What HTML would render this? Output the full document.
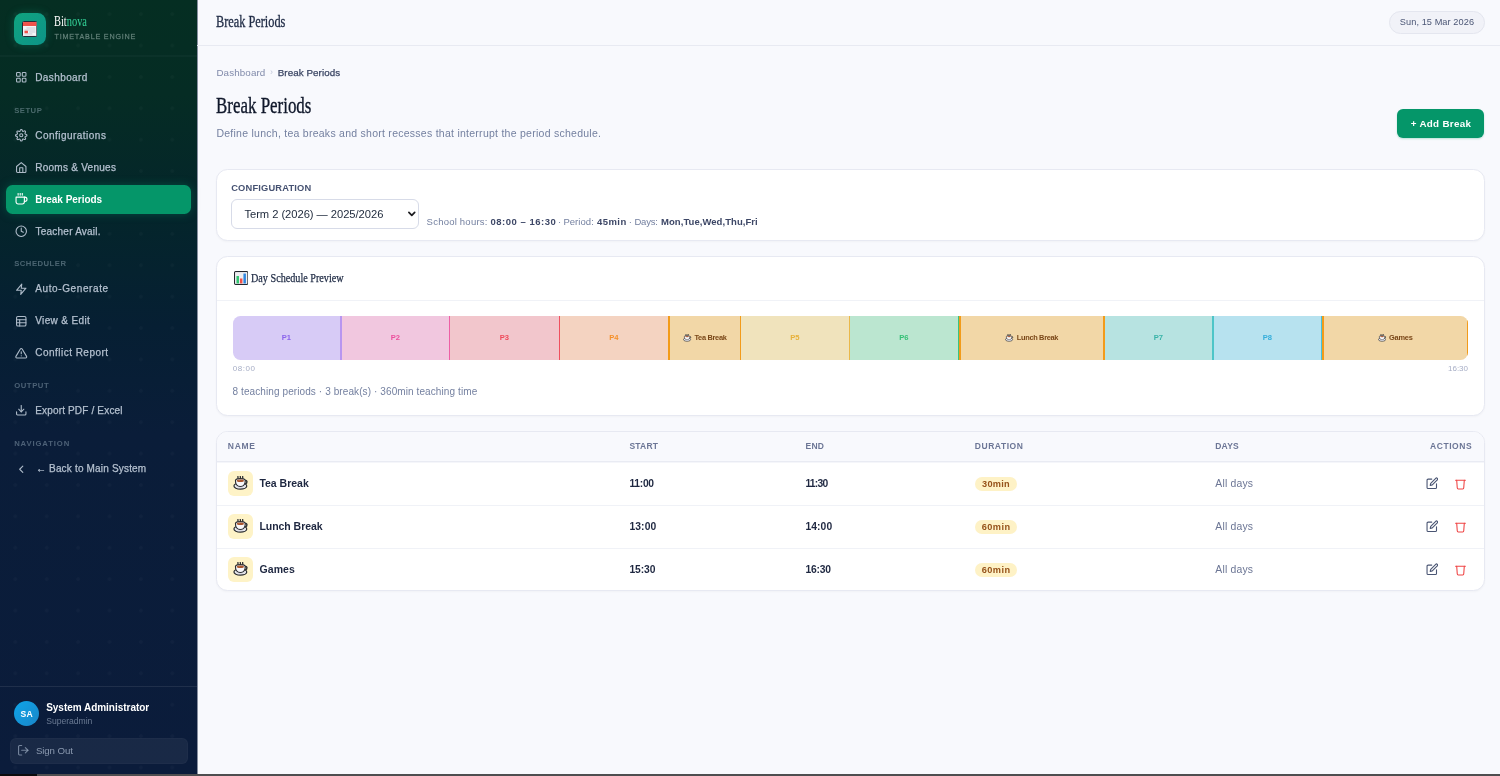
<!DOCTYPE html>
<html lang="en"><head><meta charset="utf-8"><title>Break Periods</title>
<style>

*{box-sizing:border-box;margin:0;padding:0}
html,body{width:1500px;height:776px;overflow:hidden;background:#f8f9fd;font-family:"Liberation Sans",sans-serif}
.t{position:absolute;white-space:pre;line-height:16px;display:block}
.abs{position:absolute}
#sb{position:absolute;left:0;top:0;width:197px;height:776px;box-shadow:1px 0 0 rgba(20,36,66,.5);
 background:linear-gradient(180deg,#052e22 0%,#052c24 12%,#04252b 28%,#061f33 42%,#0a1d39 56%,#0b1c3b 100%)}
#sb .dots{position:absolute;inset:0;background-image:radial-gradient(circle,rgba(255,255,255,.022) 0,rgba(255,255,255,.022) 1.4px,transparent 2.2px);background-size:31.4px 31.4px;background-position:-0.4px -1.6px}
#sb .hr{position:absolute;left:0;width:197px;height:1px;background:rgba(255,255,255,.045)}
.ico{position:absolute;width:13px;height:13px;fill:none;stroke-linecap:round;stroke-linejoin:round;stroke-width:2.1}
#active{position:absolute;left:6px;top:184.5px;width:185px;height:29.5px;border-radius:6.5px;background:#059669;box-shadow:0 0 10px rgba(5,150,105,.35)}
#logo{position:absolute;left:14px;top:13px;width:31.5px;height:31.5px;border-radius:8.5px;background:linear-gradient(135deg,#10a37f,#0d9488);box-shadow:0 0 9px rgba(16,163,127,.35)}
#avatar{position:absolute;left:14px;top:700.8px;width:25.2px;height:25.2px;border-radius:50%;background:linear-gradient(135deg,#0ea5e9,#1a86c8)}
#signout{position:absolute;left:10px;top:738px;width:178px;height:25.5px;border-radius:6px;background:rgba(255,255,255,.06);border:1px solid rgba(255,255,255,.025)}
#topline{position:absolute;left:197px;top:45px;width:1303px;height:1px;background:#e8eaf2}
#datepill{position:absolute;left:1389px;top:11px;width:95.5px;height:22.6px;border-radius:12px;background:#f1f2f8;border:1px solid #e4e6ef}
#addbtn{position:absolute;left:1396.7px;top:109.4px;width:87.6px;height:28.2px;border-radius:6px;background:#059669;box-shadow:0 1px 2px rgba(5,150,105,.25)}
.card{position:absolute;left:216px;width:1269px;background:#fff;border:1px solid #e7e9f2;border-radius:11.5px;box-shadow:0 1px 2px rgba(15,23,42,.03);overflow:hidden}
#select{position:absolute;left:231px;top:199px;width:188px;height:30px;border-radius:6px;border:1px solid #d7dbe8;background:#fff}
#bar{position:absolute;left:233px;top:316px;width:1235px;height:44px;border-radius:7.5px;overflow:hidden}
#bar div{position:absolute;top:0;height:100%}
.hline{position:absolute;left:0;width:100%;height:1px;background:#f0f2f7}
.iconbox{position:absolute;left:228px;width:25px;height:25px;border-radius:6px;background:#fef3c7}
.pill{position:absolute;left:974.8px;width:42px;height:14.2px;border-radius:7.1px;background:#fef2c6}
#bottombar{position:absolute;left:0;top:774px;width:1500px;height:2px;background:#4e4e50}
#bottombar i{position:absolute;left:0;top:0;width:37px;height:2px;background:#0c0c0e}

</style></head>
<body>
<div id="sb"><div class="dots"></div><div id="logo"></div><svg class="abs" style="left:22px;top:20.800px;width:15.400px;height:16px" viewBox="0 0 31 32">
<rect x="1" y="1" width="29" height="30" rx="2" fill="#f5f5f7" stroke="#1f2430" stroke-width="2"/>
<path d="M2 2h27v8H2z" fill="#f0524a"/>
<g fill="#c9ccd6"><rect x="9" y="13" width="18" height="2"/><rect x="5" y="17" width="22" height="2"/><rect x="14" y="21" width="13" height="2"/><rect x="5" y="25" width="16" height="2"/></g>
<rect x="5" y="19.500" width="7" height="5" fill="#f0524a"/>
</svg><span class="t" style="font:400 13.6px/16px 'Liberation Serif', serif;color:#fff;transform:scaleX(0.7663);transform-origin:0 50%;left:54.20px;top:13.70px;">Bit<span style="color:#34d399">nova</span></span><span class="t" style="font:400 7.2px/16px 'Liberation Sans', sans-serif;color:rgba(190,210,205,.40);letter-spacing:0.795px;left:54.50px;top:28.50px;-webkit-text-stroke:.3px rgba(190,210,205,.34);">TIMETABLE ENGINE</span><div class="hr" style="top:55px;height:2px;background:rgba(255,255,255,.028)"></div><svg class="ico" style="left:15.0px;top:71.25px;width:12.5px;height:12.5px;stroke:#aebbc9;stroke-width:2.1" viewBox="0 0 24 24"><rect x="3" y="3" width="7" height="7" rx="1.5"/><rect x="14" y="3" width="7" height="7" rx="1.5"/><rect x="14" y="14" width="7" height="7" rx="1.5"/><rect x="3" y="14" width="7" height="7" rx="1.5"/></svg><span class="t" style="font:400 10.0px/16px 'Liberation Sans', sans-serif;color:#b4c0cf;letter-spacing:0.410px;left:35.20px;top:69.80px;-webkit-text-stroke:.25px #b4c0cf;">Dashboard</span><span class="t" style="font:700 7.7px/16px 'Liberation Sans', sans-serif;color:rgba(170,190,205,.42);letter-spacing:0.490px;left:14.20px;top:103.10px;">SETUP</span><svg class="ico" style="left:15.0px;top:129.25px;width:12.5px;height:12.5px;stroke:#aebbc9;stroke-width:2.1" viewBox="0 0 24 24"><circle cx="12" cy="12" r="3"/><path d="M19.4 15a1.65 1.65 0 0 0 .33 1.82l.06.06a2 2 0 0 1 0 2.83 2 2 0 0 1-2.83 0l-.06-.06a1.65 1.65 0 0 0-1.82-.33 1.65 1.65 0 0 0-1 1.51V21a2 2 0 0 1-2 2 2 2 0 0 1-2-2v-.09A1.65 1.65 0 0 0 9 19.4a1.65 1.65 0 0 0-1.82.33l-.06.06a2 2 0 0 1-2.83 0 2 2 0 0 1 0-2.83l.06-.06a1.65 1.65 0 0 0 .33-1.82 1.65 1.65 0 0 0-1.51-1H3a2 2 0 0 1-2-2 2 2 0 0 1 2-2h.09A1.65 1.65 0 0 0 4.6 9a1.65 1.65 0 0 0-.33-1.82l-.06-.06a2 2 0 0 1 0-2.83 2 2 0 0 1 2.83 0l.06.06a1.65 1.65 0 0 0 1.82.33H9a1.65 1.65 0 0 0 1-1.51V3a2 2 0 0 1 2-2 2 2 0 0 1 2 2v.09a1.65 1.65 0 0 0 1 1.51 1.65 1.65 0 0 0 1.82-.33l.06-.06a2 2 0 0 1 2.83 0 2 2 0 0 1 0 2.83l-.06.06a1.65 1.65 0 0 0-.33 1.82V9a1.65 1.65 0 0 0 1.51 1H21a2 2 0 0 1 2 2 2 2 0 0 1-2 2h-.09a1.65 1.65 0 0 0-1.51 1z"/></svg><span class="t" style="font:400 10.0px/16px 'Liberation Sans', sans-serif;color:#b4c0cf;letter-spacing:0.478px;left:35.20px;top:127.80px;-webkit-text-stroke:.25px #b4c0cf;">Configurations</span><svg class="ico" style="left:15.0px;top:161.25px;width:12.5px;height:12.5px;stroke:#aebbc9;stroke-width:2.1" viewBox="0 0 24 24"><path d="M3 10.5 12 3l9 7.5V20a2 2 0 0 1-2 2H5a2 2 0 0 1-2-2z"/><path d="M9 22v-9h6v9"/></svg><span class="t" style="font:400 10.0px/16px 'Liberation Sans', sans-serif;color:#b4c0cf;letter-spacing:0.264px;left:35.20px;top:159.80px;-webkit-text-stroke:.25px #b4c0cf;">Rooms &amp; Venues</span><div id="active"></div><svg class="ico" style="left:15.0px;top:193.25px;width:12.5px;height:12.5px;stroke:#ffffff;stroke-width:2.1" viewBox="0 0 24 24"><path d="M18 8h1a4 4 0 0 1 0 8h-1"/><path d="M2 8h16v9a4 4 0 0 1-4 4H6a4 4 0 0 1-4-4V8z"/><line x1="6" y1="1" x2="6" y2="4"/><line x1="10" y1="1" x2="10" y2="4"/><line x1="14" y1="1" x2="14" y2="4"/></svg><span class="t" style="font:700 10.0px/16px 'Liberation Sans', sans-serif;color:#fff;letter-spacing:-0.022px;left:35.20px;top:191.80px;">Break Periods</span><svg class="ico" style="left:15.0px;top:224.95000000000002px;width:12.5px;height:12.5px;stroke:#aebbc9;stroke-width:2.1" viewBox="0 0 24 24"><circle cx="12" cy="12" r="10"/><polyline points="12 6 12 12 16 14"/></svg><span class="t" style="font:400 10.0px/16px 'Liberation Sans', sans-serif;color:#b4c0cf;letter-spacing:0.217px;left:35.60px;top:223.50px;-webkit-text-stroke:.25px #b4c0cf;">Teacher Avail.</span><span class="t" style="font:700 7.7px/16px 'Liberation Sans', sans-serif;color:rgba(170,190,205,.42);letter-spacing:0.495px;left:14.20px;top:256.30px;">SCHEDULER</span><svg class="ico" style="left:15.0px;top:282.65000000000003px;width:12.5px;height:12.5px;stroke:#aebbc9;stroke-width:2.1" viewBox="0 0 24 24"><polygon points="13 2 3 14 12 14 11 22 21 10 12 10 13 2"/></svg><span class="t" style="font:400 10.0px/16px 'Liberation Sans', sans-serif;color:#b4c0cf;letter-spacing:0.616px;left:35.20px;top:281.20px;-webkit-text-stroke:.25px #b4c0cf;">Auto-Generate</span><svg class="ico" style="left:15.0px;top:314.65000000000003px;width:12.5px;height:12.5px;stroke:#aebbc9;stroke-width:2.1" viewBox="0 0 24 24"><rect x="3" y="3" width="18" height="18" rx="2.5"/><line x1="3" y1="9" x2="21" y2="9"/><line x1="3" y1="15" x2="21" y2="15"/><line x1="9" y1="9" x2="9" y2="21"/></svg><span class="t" style="font:400 10.0px/16px 'Liberation Sans', sans-serif;color:#b4c0cf;letter-spacing:0.375px;left:35.20px;top:313.20px;-webkit-text-stroke:.25px #b4c0cf;">View &amp; Edit</span><svg class="ico" style="left:15.0px;top:346.65000000000003px;width:12.5px;height:12.5px;stroke:#aebbc9;stroke-width:2.1" viewBox="0 0 24 24"><path d="M10.29 3.86 1.82 18a2 2 0 0 0 1.71 3h16.94a2 2 0 0 0 1.71-3L13.71 3.86a2 2 0 0 0-3.42 0z"/><line x1="12" y1="9" x2="12" y2="13"/><line x1="12" y1="17" x2="12.01" y2="17"/></svg><span class="t" style="font:400 10.0px/16px 'Liberation Sans', sans-serif;color:#b4c0cf;letter-spacing:0.483px;left:35.20px;top:345.20px;-webkit-text-stroke:.25px #b4c0cf;">Conflict Report</span><span class="t" style="font:700 7.7px/16px 'Liberation Sans', sans-serif;color:rgba(170,190,205,.42);letter-spacing:0.578px;left:14.20px;top:378.40px;">OUTPUT</span><svg class="ico" style="left:15.0px;top:404.45px;width:12.5px;height:12.5px;stroke:#aebbc9;stroke-width:2.1" viewBox="0 0 24 24"><path d="M21 15v4a2 2 0 0 1-2 2H5a2 2 0 0 1-2-2v-4"/><polyline points="7 10 12 15 17 10"/><line x1="12" y1="15" x2="12" y2="3"/></svg><span class="t" style="font:400 10.0px/16px 'Liberation Sans', sans-serif;color:#b4c0cf;letter-spacing:0.167px;left:35.20px;top:403.00px;-webkit-text-stroke:.25px #b4c0cf;">Export PDF / Excel</span><span class="t" style="font:700 7.7px/16px 'Liberation Sans', sans-serif;color:rgba(170,190,205,.42);letter-spacing:0.875px;left:14.20px;top:436.40px;">NAVIGATION</span><svg class="ico" style="left:15.0px;top:462.55px;width:12.5px;height:12.5px;stroke:#aebbc9;stroke-width:2.1" viewBox="0 0 24 24"><polyline points="15 18 9 12 15 6"/></svg><span class="t" style="font:400 10.0px/16px 'Liberation Sans', sans-serif;color:#b4c0cf;letter-spacing:0.180px;left:35.90px;top:460.90px;-webkit-text-stroke:.25px #b4c0cf;">← Back to Main System</span><div class="hr" style="top:686px;background:rgba(255,255,255,.085)"></div><div id="avatar"></div><span class="t" style="font:700 8.6px/16px 'Liberation Sans', sans-serif;color:#fff;letter-spacing:0.247px;left:20.50px;top:705.50px;">SA</span><span class="t" style="font:700 10.0px/16px 'Liberation Sans', sans-serif;color:#fff;letter-spacing:-0.029px;left:46.20px;top:699.60px;">System Administrator</span><span class="t" style="font:400 8.6px/16px 'Liberation Sans', sans-serif;color:rgba(180,195,215,.55);letter-spacing:-0.016px;left:46.20px;top:713.00px;">Superadmin</span><div id="signout"></div><svg class="ico" style="left:17px;top:744.25px;width:12.5px;height:12.5px;stroke:rgba(180,195,215,.6);stroke-width:2.1" viewBox="0 0 24 24"><path d="M9 21H5a2 2 0 0 1-2-2V5a2 2 0 0 1 2-2h4"/><polyline points="16 17 21 12 16 7"/><line x1="21" y1="12" x2="9" y2="12"/></svg><span class="t" style="font:400 9.7px/16px 'Liberation Sans', sans-serif;color:rgba(190,203,222,.68);letter-spacing:-0.100px;left:35.90px;top:742.60px;">Sign Out</span></div><span class="t" style="font:400 15.7px/16px 'Liberation Serif', serif;color:#1e2a44;transform:scaleX(0.7846);transform-origin:0 50%;left:216.40px;top:13.60px;-webkit-text-stroke:.3px #1e2a44;">Break Periods</span><div id="topline"></div><div id="datepill"></div><span class="t" style="font:400 9.2px/16px 'Liberation Sans', sans-serif;color:#4b5675;letter-spacing:0.077px;left:1399.80px;top:14.30px;">Sun, 15 Mar 2026</span><span class="t" style="font:400 9.8px/16px 'Liberation Sans', sans-serif;color:#808aaa;letter-spacing:0.120px;left:216.40px;top:64.70px;">Dashboard</span><span class="t" style="font:400 9px/16px 'Liberation Sans', sans-serif;color:#c3c8da;left:270.10px;top:64.30px;">›</span><span class="t" style="font:400 9.8px/16px 'Liberation Sans', sans-serif;color:#3a4563;letter-spacing:0.071px;left:277.70px;top:64.70px;-webkit-text-stroke:.25px #3a4563;">Break Periods</span><span class="t" style="font:400 23.3px/16px 'Liberation Serif', serif;color:#0f172a;transform:scaleX(0.7263);transform-origin:0 50%;left:216.40px;top:97.40px;-webkit-text-stroke:.35px #0f172a;">Break Periods</span><span class="t" style="font:400 10.5px/16px 'Liberation Sans', sans-serif;color:#7480a0;letter-spacing:0.261px;left:216.40px;top:125.40px;">Define lunch, tea breaks and short recesses that interrupt the period schedule.</span><div id="addbtn"></div><span class="t" style="font:700 9.8px/16px 'Liberation Sans', sans-serif;color:#fff;letter-spacing:0.311px;left:1410.70px;top:116.40px;">+ Add Break</span><div class="card" style="top:169px;height:71.500px"></div><span class="t" style="font:700 9.3px/16px 'Liberation Sans', sans-serif;color:#465272;letter-spacing:0.182px;left:231.20px;top:179.60px;">CONFIGURATION</span><div id="select"></div><span class="t" style="font:400 11.2px/16px 'Liberation Sans', sans-serif;color:#1e293b;letter-spacing:-0.039px;left:244.40px;top:206.00px;">Term 2 (2026) — 2025/2026</span><svg class="abs" style="left:406.600px;top:209.600px;width:9.600px;height:8px;fill:none;stroke:#1b1b1f;stroke-width:1.700;stroke-linecap:round;stroke-linejoin:round" viewBox="0 0 9.600 8"><polyline points="1.900 2.300 4.800 5.300 7.700 2.300"/></svg><span class="t" style="font:400 9.5px/16px 'Liberation Sans', sans-serif;color:#7480a0;letter-spacing:0.226px;left:426.60px;top:213.90px;">School hours:</span><span class="t" style="font:700 9.5px/16px 'Liberation Sans', sans-serif;color:#3d4766;letter-spacing:0.519px;left:490.40px;top:213.90px;">08:00 – 16:30</span><span class="t" style="font:400 9.5px/16px 'Liberation Sans', sans-serif;color:#7480a0;left:558.01px;top:213.90px;">·</span><span class="t" style="font:400 9.5px/16px 'Liberation Sans', sans-serif;color:#7480a0;letter-spacing:0.048px;left:563.40px;top:213.90px;">Period:</span><span class="t" style="font:700 9.5px/16px 'Liberation Sans', sans-serif;color:#3d4766;letter-spacing:0.408px;left:597.10px;top:213.90px;">45min</span><span class="t" style="font:400 9.5px/16px 'Liberation Sans', sans-serif;color:#7480a0;left:628.81px;top:213.90px;">·</span><span class="t" style="font:400 9.5px/16px 'Liberation Sans', sans-serif;color:#7480a0;letter-spacing:-0.199px;left:634.40px;top:213.90px;">Days:</span><span class="t" style="font:700 9.5px/16px 'Liberation Sans', sans-serif;color:#3d4766;letter-spacing:0.055px;left:661.00px;top:213.90px;">Mon,Tue,Wed,Thu,Fri</span><div class="card" style="top:256px;height:160px"><div class="hline" style="top:43px"></div></div><svg class="abs" style="left:233.600px;top:271px;width:14.400px;height:14px" viewBox="0 0 29 28">
<rect x="1.200" y="1.200" width="26.600" height="25.600" rx="2" fill="#fdfdfd" stroke="#22252e" stroke-width="2.400"/>
<rect x="2.400" y="2.400" width="24.200" height="23.200" fill="#eeeef2"/><rect x="5" y="10" width="5" height="15" fill="#2fc46f"/><rect x="12" y="15" width="5" height="10" fill="#f0524a"/><rect x="19" y="5" width="5" height="20" fill="#2f86e0"/>
</svg><span class="t" style="font:400 12.7px/16px 'Liberation Serif', serif;color:#1e2a44;transform:scaleX(0.8012);transform-origin:0 50%;left:250.80px;top:270.30px;-webkit-text-stroke:.25px #1e2a44;">Day Schedule Preview</span><div id="bar"><div style="left:0px;width:109px;background:#d7cbf6;border-right:2px solid #b896f0;"></div><div style="left:109px;width:108px;background:#f1c7df;border-right:1px solid #ee5fa5;"></div><div style="left:217px;width:110px;background:#f2c6cc;border-right:1px solid #f0505f;"></div><div style="left:327px;width:108px;background:#f4d3c1;"></div><div style="left:435px;width:73px;background:#f2d7a7;border-right:1px solid #f29b1a;border-left:2px solid #f29b1a;"></div><div style="left:508px;width:109px;background:#f0e3bc;border-right:1px solid #eab84a;"></div><div style="left:617px;width:109px;background:#bbe6d0;border-right:1px solid #3cc47e;"></div><div style="left:726px;width:146px;background:#f2d7a7;border-right:2px solid #f29b1a;border-left:2px solid #f29b1a;"></div><div style="left:872px;width:109px;background:#b7e3e1;border-right:2px solid #4ec5c8;"></div><div style="left:981px;width:108px;background:#b7e2ef;border-right:1px solid #45c3dc;"></div><div style="left:1089px;width:146px;background:#f2d7a7;border-right:1.5px solid #f29b1a;border-left:2px solid #f29b1a;"></div></div><span class="t" style="font:700 7.6px/16px 'Liberation Sans', sans-serif;color:#8b64ec;left:281.65px;top:330.20px;">P1</span><span class="t" style="font:700 7.6px/16px 'Liberation Sans', sans-serif;color:#ec4f9d;left:390.65px;top:330.20px;">P2</span><span class="t" style="font:700 7.6px/16px 'Liberation Sans', sans-serif;color:#ef4a5a;left:499.65px;top:330.20px;">P3</span><span class="t" style="font:700 7.6px/16px 'Liberation Sans', sans-serif;color:#f5902a;left:609.15px;top:330.20px;">P4</span><span class="t" style="font:700 7.6px/16px 'Liberation Sans', sans-serif;color:#e7b13a;left:790.15px;top:330.20px;">P5</span><span class="t" style="font:700 7.6px/16px 'Liberation Sans', sans-serif;color:#35c076;left:899.15px;top:330.20px;">P6</span><span class="t" style="font:700 7.6px/16px 'Liberation Sans', sans-serif;color:#38b3a8;left:1153.65px;top:330.20px;">P7</span><span class="t" style="font:700 7.6px/16px 'Liberation Sans', sans-serif;color:#35aedb;left:1262.65px;top:330.20px;">P8</span><svg class="abs" style="left:683.2px;top:333.7px;width:8.4px;height:7.88px" viewBox="0 0 32 30">
<path d="M10.500 1c-1.200 1.600 1.200 2.800 0 4.500M15.500 .5c-1.200 1.600 1.200 2.800 0 4.500M20.500 1c-1.200 1.600 1.200 2.800 0 4.500" fill="none" stroke="#2b2d31" stroke-width="2.600" stroke-linecap="round"/>
<path d="M25 9.500c5-1.500 6.500 5.500 .5 7.500" fill="none" stroke="#2b2d31" stroke-width="3"/>
<ellipse cx="15.500" cy="21" rx="13.500" ry="6.600" fill="#ececf1" stroke="#2b2d31" stroke-width="2.600"/>
<path d="M5.200 9c-.4 7 3 13.500 10.300 13.500S26.200 16 25.800 9c-1-4.500-19.600-4.500-20.600 0z" fill="#f8f8fb" stroke="#2b2d31" stroke-width="2.400" stroke-linejoin="round"/>
<path d="M4 19.500c2 4 6 5.800 11.500 5.800s9.500-1.800 11.500-5.800c-3 2.500-7 3.600-11.500 3.600S7 22 4 19.500z" fill="#dcdce4"/>
<ellipse cx="15.500" cy="9.800" rx="7.600" ry="2.600" fill="#a9562f"/>
<ellipse cx="13" cy="9.300" rx="2.200" ry=".9" fill="#c77a4c"/>
</svg><span class="t" style="font:700 7.4px/16px 'Liberation Sans', sans-serif;color:#7a4718;letter-spacing:-0.287px;left:694.40px;top:330.20px;">Tea Break</span><svg class="abs" style="left:1005.2px;top:333.7px;width:8.4px;height:7.88px" viewBox="0 0 32 30">
<path d="M10.500 1c-1.200 1.600 1.200 2.800 0 4.500M15.500 .5c-1.200 1.600 1.200 2.800 0 4.500M20.500 1c-1.200 1.600 1.200 2.800 0 4.500" fill="none" stroke="#2b2d31" stroke-width="2.600" stroke-linecap="round"/>
<path d="M25 9.500c5-1.500 6.500 5.500 .5 7.500" fill="none" stroke="#2b2d31" stroke-width="3"/>
<ellipse cx="15.500" cy="21" rx="13.500" ry="6.600" fill="#ececf1" stroke="#2b2d31" stroke-width="2.600"/>
<path d="M5.200 9c-.4 7 3 13.500 10.300 13.500S26.200 16 25.800 9c-1-4.500-19.600-4.500-20.600 0z" fill="#f8f8fb" stroke="#2b2d31" stroke-width="2.400" stroke-linejoin="round"/>
<path d="M4 19.500c2 4 6 5.800 11.500 5.800s9.500-1.800 11.500-5.800c-3 2.500-7 3.600-11.500 3.600S7 22 4 19.500z" fill="#dcdce4"/>
<ellipse cx="15.500" cy="9.800" rx="7.600" ry="2.600" fill="#a9562f"/>
<ellipse cx="13" cy="9.300" rx="2.200" ry=".9" fill="#c77a4c"/>
</svg><span class="t" style="font:700 7.4px/16px 'Liberation Sans', sans-serif;color:#7a4718;letter-spacing:-0.318px;left:1016.80px;top:330.20px;">Lunch Break</span><svg class="abs" style="left:1378px;top:333.7px;width:8.4px;height:7.88px" viewBox="0 0 32 30">
<path d="M10.500 1c-1.200 1.600 1.200 2.800 0 4.500M15.500 .5c-1.200 1.600 1.200 2.800 0 4.500M20.500 1c-1.200 1.600 1.200 2.800 0 4.500" fill="none" stroke="#2b2d31" stroke-width="2.600" stroke-linecap="round"/>
<path d="M25 9.500c5-1.500 6.500 5.500 .5 7.500" fill="none" stroke="#2b2d31" stroke-width="3"/>
<ellipse cx="15.500" cy="21" rx="13.500" ry="6.600" fill="#ececf1" stroke="#2b2d31" stroke-width="2.600"/>
<path d="M5.200 9c-.4 7 3 13.500 10.300 13.500S26.200 16 25.800 9c-1-4.500-19.600-4.500-20.600 0z" fill="#f8f8fb" stroke="#2b2d31" stroke-width="2.400" stroke-linejoin="round"/>
<path d="M4 19.500c2 4 6 5.800 11.500 5.800s9.500-1.800 11.500-5.800c-3 2.500-7 3.600-11.500 3.600S7 22 4 19.500z" fill="#dcdce4"/>
<ellipse cx="15.500" cy="9.800" rx="7.600" ry="2.600" fill="#a9562f"/>
<ellipse cx="13" cy="9.300" rx="2.200" ry=".9" fill="#c77a4c"/>
</svg><span class="t" style="font:700 7.4px/16px 'Liberation Sans', sans-serif;color:#7a4718;letter-spacing:-0.214px;left:1389.00px;top:330.20px;">Games</span><span class="t" style="font:400 8.0px/16px 'Liberation Sans', sans-serif;color:#a7aec6;letter-spacing:0.567px;left:232.70px;top:361.40px;">08:00</span><span class="t" style="font:400 8.0px/16px 'Liberation Sans', sans-serif;color:#a7aec6;letter-spacing:-0.008px;left:1448.01px;top:361.40px;">16:30</span><span class="t" style="font:400 10.0px/16px 'Liberation Sans', sans-serif;color:#7480a0;letter-spacing:0.097px;left:232.50px;top:383.90px;">8 teaching periods · 3 break(s) · 360min teaching time</span><div class="card" style="top:431px;height:160px"><div class="abs" style="left:0;top:0;width:100%;height:29px;background:#f8f9fd"></div><div class="hline" style="top:29px;background:#e9ebf3"></div><div class="hline" style="top:30px;background:#f5f6fa"></div><div class="hline" style="top:73px"></div><div class="hline" style="top:116px"></div></div><span class="t" style="font:700 8.5px/16px 'Liberation Sans', sans-serif;color:#6c7696;letter-spacing:0.723px;left:227.80px;top:438.20px;">NAME</span><span class="t" style="font:700 8.5px/16px 'Liberation Sans', sans-serif;color:#6c7696;letter-spacing:0.224px;left:629.40px;top:438.20px;">START</span><span class="t" style="font:700 8.5px/16px 'Liberation Sans', sans-serif;color:#6c7696;letter-spacing:0.323px;left:805.40px;top:438.20px;">END</span><span class="t" style="font:700 8.5px/16px 'Liberation Sans', sans-serif;color:#6c7696;letter-spacing:0.552px;left:974.80px;top:438.20px;">DURATION</span><span class="t" style="font:700 8.5px/16px 'Liberation Sans', sans-serif;color:#6c7696;letter-spacing:0.185px;left:1215.30px;top:438.20px;">DAYS</span><span class="t" style="font:700 8.5px/16px 'Liberation Sans', sans-serif;color:#6c7696;letter-spacing:0.558px;left:1430.04px;top:438.20px;">ACTIONS</span><div class="iconbox" style="top:470.8px"></div><svg class="abs" style="left:232.8px;top:475.6px;width:15.2px;height:14.25px" viewBox="0 0 32 30">
<path d="M10.500 1c-1.200 1.600 1.200 2.800 0 4.500M15.500 .5c-1.200 1.600 1.200 2.800 0 4.500M20.500 1c-1.200 1.600 1.200 2.800 0 4.500" fill="none" stroke="#2b2d31" stroke-width="2.600" stroke-linecap="round"/>
<path d="M25 9.500c5-1.500 6.500 5.500 .5 7.500" fill="none" stroke="#2b2d31" stroke-width="3"/>
<ellipse cx="15.500" cy="21" rx="13.500" ry="6.600" fill="#ececf1" stroke="#2b2d31" stroke-width="2.600"/>
<path d="M5.200 9c-.4 7 3 13.500 10.300 13.500S26.200 16 25.800 9c-1-4.500-19.600-4.500-20.600 0z" fill="#f8f8fb" stroke="#2b2d31" stroke-width="2.400" stroke-linejoin="round"/>
<path d="M4 19.500c2 4 6 5.800 11.500 5.800s9.500-1.800 11.500-5.800c-3 2.500-7 3.600-11.500 3.600S7 22 4 19.500z" fill="#dcdce4"/>
<ellipse cx="15.500" cy="9.800" rx="7.600" ry="2.600" fill="#a9562f"/>
<ellipse cx="13" cy="9.300" rx="2.200" ry=".9" fill="#c77a4c"/>
</svg><span class="t" style="font:700 10.5px/16px 'Liberation Sans', sans-serif;color:#1e2740;letter-spacing:-0.003px;left:259.40px;top:475.30px;">Tea Break</span><span class="t" style="font:700 10.3px/16px 'Liberation Sans', sans-serif;color:#1e2740;letter-spacing:-0.270px;left:629.40px;top:476.10px;">11:00</span><span class="t" style="font:700 10.3px/16px 'Liberation Sans', sans-serif;color:#1e2740;letter-spacing:-0.720px;left:805.40px;top:476.10px;">11:30</span><div class="pill" style="top:476.5px"></div><span class="t" style="font:700 9.2px/16px 'Liberation Sans', sans-serif;color:#96521a;letter-spacing:0.284px;left:982.05px;top:475.70px;">30min</span><span class="t" style="font:400 10.4px/16px 'Liberation Sans', sans-serif;color:#6b7594;letter-spacing:0.187px;left:1215.30px;top:476.10px;">All days</span><svg class="ico" style="left:1425.6px;top:477.1px;width:12.6px;height:12.6px;stroke:#4a5573;stroke-width:2.1" viewBox="0 0 24 24"><path d="M11 4H4a2 2 0 0 0-2 2v14a2 2 0 0 0 2 2h14a2 2 0 0 0 2-2v-7"/><path d="M18.5 2.5a2.121 2.121 0 0 1 3 3L12 15l-4 1 1-4 9.500-9.500z"/></svg><svg class="ico" style="left:1453.5px;top:477.40000000000003px;width:13px;height:13px;stroke:#ef4444;stroke-width:2" viewBox="0 0 24 24"><polyline points="3 6 21 6"/><path d="M19 6l-1 14a2 2 0 0 1-2 2H8a2 2 0 0 1-2-2L5 6"/></svg><div class="iconbox" style="top:513.8px"></div><svg class="abs" style="left:232.8px;top:518.5999999999999px;width:15.2px;height:14.25px" viewBox="0 0 32 30">
<path d="M10.500 1c-1.200 1.600 1.200 2.800 0 4.500M15.500 .5c-1.200 1.600 1.200 2.800 0 4.500M20.500 1c-1.200 1.600 1.200 2.800 0 4.500" fill="none" stroke="#2b2d31" stroke-width="2.600" stroke-linecap="round"/>
<path d="M25 9.500c5-1.500 6.500 5.500 .5 7.500" fill="none" stroke="#2b2d31" stroke-width="3"/>
<ellipse cx="15.500" cy="21" rx="13.500" ry="6.600" fill="#ececf1" stroke="#2b2d31" stroke-width="2.600"/>
<path d="M5.200 9c-.4 7 3 13.500 10.300 13.500S26.200 16 25.800 9c-1-4.500-19.600-4.500-20.600 0z" fill="#f8f8fb" stroke="#2b2d31" stroke-width="2.400" stroke-linejoin="round"/>
<path d="M4 19.500c2 4 6 5.800 11.500 5.800s9.500-1.800 11.500-5.800c-3 2.500-7 3.600-11.500 3.600S7 22 4 19.500z" fill="#dcdce4"/>
<ellipse cx="15.500" cy="9.800" rx="7.600" ry="2.600" fill="#a9562f"/>
<ellipse cx="13" cy="9.300" rx="2.200" ry=".9" fill="#c77a4c"/>
</svg><span class="t" style="font:700 10.5px/16px 'Liberation Sans', sans-serif;color:#1e2740;letter-spacing:-0.031px;left:259.40px;top:518.30px;">Lunch Break</span><span class="t" style="font:700 10.3px/16px 'Liberation Sans', sans-serif;color:#1e2740;letter-spacing:0.139px;left:629.40px;top:519.10px;">13:00</span><span class="t" style="font:700 10.3px/16px 'Liberation Sans', sans-serif;color:#1e2740;letter-spacing:0.114px;left:805.40px;top:519.10px;">14:00</span><div class="pill" style="top:519.5px"></div><span class="t" style="font:700 9.2px/16px 'Liberation Sans', sans-serif;color:#96521a;letter-spacing:0.434px;left:981.75px;top:518.70px;">60min</span><span class="t" style="font:400 10.4px/16px 'Liberation Sans', sans-serif;color:#6b7594;letter-spacing:0.187px;left:1215.30px;top:519.10px;">All days</span><svg class="ico" style="left:1425.6px;top:520.1px;width:12.6px;height:12.6px;stroke:#4a5573;stroke-width:2.1" viewBox="0 0 24 24"><path d="M11 4H4a2 2 0 0 0-2 2v14a2 2 0 0 0 2 2h14a2 2 0 0 0 2-2v-7"/><path d="M18.5 2.5a2.121 2.121 0 0 1 3 3L12 15l-4 1 1-4 9.500-9.500z"/></svg><svg class="ico" style="left:1453.5px;top:520.4px;width:13px;height:13px;stroke:#ef4444;stroke-width:2" viewBox="0 0 24 24"><polyline points="3 6 21 6"/><path d="M19 6l-1 14a2 2 0 0 1-2 2H8a2 2 0 0 1-2-2L5 6"/></svg><div class="iconbox" style="top:556.8px"></div><svg class="abs" style="left:232.8px;top:561.5999999999999px;width:15.2px;height:14.25px" viewBox="0 0 32 30">
<path d="M10.500 1c-1.200 1.600 1.200 2.800 0 4.500M15.500 .5c-1.200 1.600 1.200 2.800 0 4.500M20.500 1c-1.200 1.600 1.200 2.800 0 4.500" fill="none" stroke="#2b2d31" stroke-width="2.600" stroke-linecap="round"/>
<path d="M25 9.500c5-1.500 6.500 5.500 .5 7.500" fill="none" stroke="#2b2d31" stroke-width="3"/>
<ellipse cx="15.500" cy="21" rx="13.500" ry="6.600" fill="#ececf1" stroke="#2b2d31" stroke-width="2.600"/>
<path d="M5.200 9c-.4 7 3 13.500 10.300 13.500S26.200 16 25.800 9c-1-4.500-19.600-4.500-20.600 0z" fill="#f8f8fb" stroke="#2b2d31" stroke-width="2.400" stroke-linejoin="round"/>
<path d="M4 19.500c2 4 6 5.800 11.500 5.800s9.500-1.800 11.500-5.800c-3 2.500-7 3.600-11.500 3.600S7 22 4 19.500z" fill="#dcdce4"/>
<ellipse cx="15.500" cy="9.800" rx="7.600" ry="2.600" fill="#a9562f"/>
<ellipse cx="13" cy="9.300" rx="2.200" ry=".9" fill="#c77a4c"/>
</svg><span class="t" style="font:700 10.5px/16px 'Liberation Sans', sans-serif;color:#1e2740;letter-spacing:0.117px;left:259.40px;top:561.30px;">Games</span><span class="t" style="font:700 10.3px/16px 'Liberation Sans', sans-serif;color:#1e2740;letter-spacing:-0.086px;left:629.40px;top:562.10px;">15:30</span><span class="t" style="font:700 10.3px/16px 'Liberation Sans', sans-serif;color:#1e2740;letter-spacing:-0.186px;left:805.40px;top:562.10px;">16:30</span><div class="pill" style="top:562.5px"></div><span class="t" style="font:700 9.2px/16px 'Liberation Sans', sans-serif;color:#96521a;letter-spacing:0.434px;left:981.75px;top:561.70px;">60min</span><span class="t" style="font:400 10.4px/16px 'Liberation Sans', sans-serif;color:#6b7594;letter-spacing:0.187px;left:1215.30px;top:562.10px;">All days</span><svg class="ico" style="left:1425.6px;top:563.1px;width:12.6px;height:12.6px;stroke:#4a5573;stroke-width:2.1" viewBox="0 0 24 24"><path d="M11 4H4a2 2 0 0 0-2 2v14a2 2 0 0 0 2 2h14a2 2 0 0 0 2-2v-7"/><path d="M18.5 2.5a2.121 2.121 0 0 1 3 3L12 15l-4 1 1-4 9.500-9.500z"/></svg><svg class="ico" style="left:1453.5px;top:563.4px;width:13px;height:13px;stroke:#ef4444;stroke-width:2" viewBox="0 0 24 24"><polyline points="3 6 21 6"/><path d="M19 6l-1 14a2 2 0 0 1-2 2H8a2 2 0 0 1-2-2L5 6"/></svg><div id="bottombar"><i></i></div>
</body></html>
